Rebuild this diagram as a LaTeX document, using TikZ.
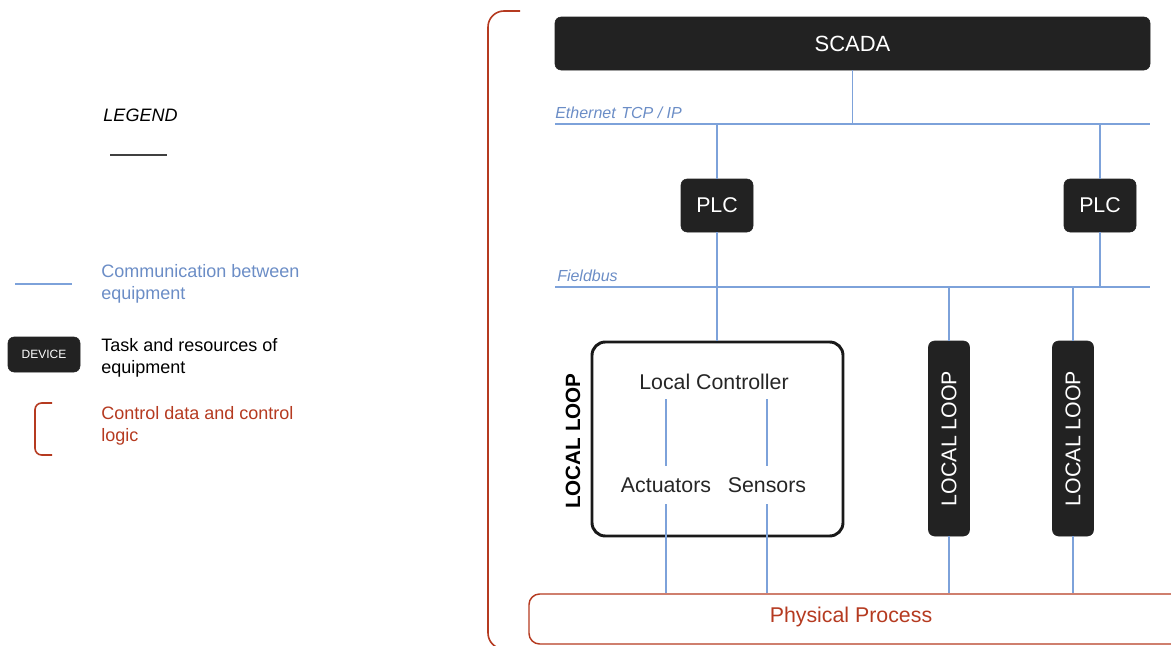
\documentclass[tikz,border=0pt]{standalone}
\usepackage{fontspec}
\setmainfont{Liberation Sans}
\definecolor{devfill}{HTML}{222222}
\definecolor{netblue}{HTML}{7DA2DA}
\definecolor{txtblue}{HTML}{6B8DC6}
\definecolor{ctrlred}{HTML}{B53A20}
\begin{document}
\begin{tikzpicture}[x=0.75pt,y=-0.75pt,
  device/.style={fill=devfill, draw=devfill, rounded corners=4.5pt, text=white, inner sep=0pt},
  bus/.style={draw=netblue, line width=1.1pt},
  ctrl/.style={draw=ctrlred, line width=1.2pt},
  bigtxt/.style={font=\fontsize{16}{19}\selectfont},
  legtxt/.style={font=\fontsize{13.5}{16.5}\selectfont, align=left, anchor=west, inner sep=0pt},
  netlabel/.style={font=\fontsize{12}{14}\selectfont\itshape, text=txtblue, anchor=base west, inner sep=0pt},
  plain/.style={inner sep=0pt, bigtxt, text=black!85}
]
\useasboundingbox (0,0) rectangle (1171,646);

% ---------------- Legend ----------------
\node[inner sep=0pt, font=\fontsize{13.5}{16}\selectfont\itshape] (legend) at (140.5,115) {LEGEND};
\coordinate (lgl) at (110,155);
\coordinate (lgr) at (167,155);
\draw[black!75, line width=0.8pt] (lgl) -- (lgr);

\coordinate (lb1) at (15,284);
\coordinate (lb2) at (72,284);
\draw[bus] (lb1) -- (lb2);
\node[legtxt, text=txtblue] (legcomm) at (101,284) {Communication between\\equipment};

\node[device, minimum width=72*0.75pt, minimum height=35*0.75pt, font=\fontsize{9}{10}\selectfont] (legdev) at (44,354.5) {DEVICE};
\node[legtxt, text=black] (legtask) at (101,358) {Task and resources of\\equipment};

\coordinate (lr1) at (52,403);
\coordinate (lr2) at (35,403);
\coordinate (lr3) at (35,455);
\coordinate (lr4) at (52,455);
\draw[ctrl, rounded corners=5pt] (lr1) -- (lr2) -- (lr3) -- (lr4);
\node[legtxt, text=ctrlred] (legctrl) at (101,426) {Control data and control\\logic};

% ---------------- Main bracket ----------------
\coordinate (br1) at (520,11);
\coordinate (br2) at (488,11);
\coordinate (br3) at (488,649);
\coordinate (br4) at (520,649);
\draw[ctrl, rounded corners=12pt] (br1) -- (br2) -- (br3) -- (br4);

% ---------------- Devices ----------------
\node[device, minimum width=595*0.75pt, minimum height=53*0.75pt, font=\fontsize{16.5}{19}\selectfont] (scada) at (852.5,43.5) {SCADA};
\node[device, minimum width=72*0.75pt, minimum height=53*0.75pt, bigtxt] (plc1) at (717,205.5) {PLC};
\node[device, minimum width=72*0.75pt, minimum height=53*0.75pt, bigtxt] (plc2) at (1100,205.5) {PLC};

% rotated: width runs along the text (vertical), height across it
\node[device, minimum width=195*0.75pt, minimum height=41*0.75pt, rotate=90, bigtxt] (ll2) at (949,438.5) {LOCAL LOOP};
\node[device, minimum width=195*0.75pt, minimum height=41*0.75pt, rotate=90, bigtxt] (ll3) at (1073,438.5) {LOCAL LOOP};

% local loop detailed box
\node[draw=black!90, line width=2.2pt, rounded corners=10pt, fill=white, minimum width=251*0.75pt, minimum height=194*0.75pt, inner sep=0pt] (ll1) at (717.5,439) {};
\node[inner sep=0pt, rotate=90, font=\fontsize{15.5}{18}\selectfont\bfseries] (lltitle) at (573,441) {LOCAL LOOP};
\node[plain, minimum height=34*0.75pt] (lc) at (714,382) {Local Controller};
\node[plain, minimum height=38*0.75pt] (act) at (666,485) {Actuators};
\node[plain, minimum height=38*0.75pt] (sen) at (767,485) {Sensors};

% Physical process
\node[draw=ctrlred, line width=1.1pt, rounded corners=8pt, minimum width=661*0.75pt, minimum height=50*0.75pt, inner sep=0pt] (pp) at (859.5,619) {};
\node[inner sep=0pt, bigtxt, text=ctrlred] (pptext) at (851,617) {Physical Process};

% ---------------- Buses ----------------
\coordinate (ethl) at (555,124);
\coordinate (ethr) at (1150,124);
\coordinate (fbl) at (555,287);
\coordinate (fbr) at (1150,287);
\draw[bus] (ethl) -- (ethr);
\draw[bus] (fbl) -- (fbr);
\node[netlabel] (ethlabel) at (555,118) {Ethernet\hspace{0.35em}TCP / IP};
\node[netlabel] (fblabel) at (557,281) {Fieldbus};

\draw[bus] (scada.south) -- (scada.south |- ethl);
\draw[bus] (plc1.north |- ethl) -- (plc1.north);
\draw[bus] (plc2.north |- ethl) -- (plc2.north);
\draw[bus] (plc1.south) -- (plc1.south |- fbl);
\draw[bus] (plc2.south) -- (plc2.south |- fbl);
\draw[bus] (ll1.north -| plc1.south) -- (plc1.south |- fbl);
% for the rotated nodes, east is the top end and west the bottom end
\draw[bus] (ll2.east |- fbl) -- (ll2.east);
\draw[bus] (ll3.east |- fbl) -- (ll3.east);
\draw[bus] (ll2.west) -- (ll2.west |- pp.north);
\draw[bus] (ll3.west) -- (ll3.west |- pp.north);

% inside local loop
\draw[bus] (lc.south -| act.north) -- (act.north);
\draw[bus] (lc.south -| sen.north) -- (sen.north);
\draw[bus] (act.south) -- (act.south |- pp.north);
\draw[bus] (sen.south) -- (sen.south |- pp.north);
\end{tikzpicture}
\end{document}
